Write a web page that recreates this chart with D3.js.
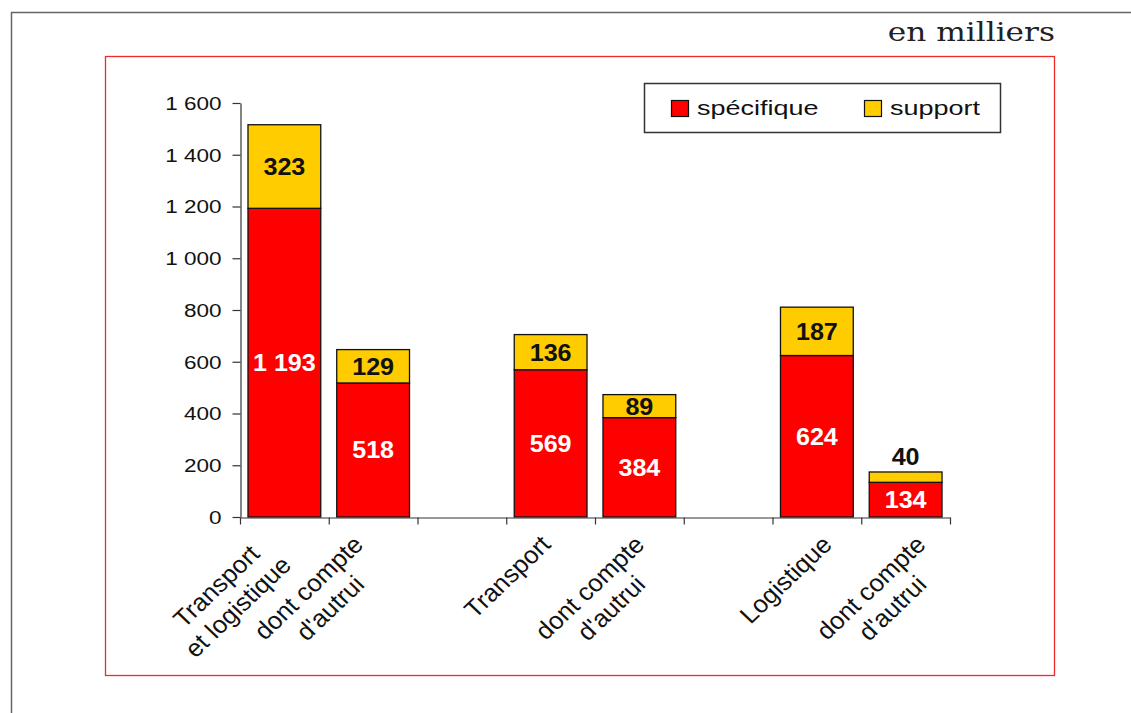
<!DOCTYPE html>
<html>
<head>
<meta charset="utf-8">
<script src="https://cdn.jsdelivr.net/npm/d3@7"></script>
<style>
	body { margin: 0; background: #fff; }
	svg text { font-family: "Liberation Sans", Arial, sans-serif; }
</style>
</head>
<body>
<script>
// categories (empty entries are the gaps between groups)
const categories = ["Transport\net logistique", "dont compte\nd'autrui", "", "Transport", "dont compte\nd'autrui", "", "Logistique", "dont compte\nd'autrui"];
const specifique = [1193, 518, null, 569, 384, null, 624, 134];
const support = [323, 129, null, 136, 89, null, 187, 40];
const yTicks = [0, 200, 400, 600, 800, 1000, 1200, 1400, 1600];
const seriesNames = ["spécifique", "support"];
const seriesColors = ["#ff0000", "#ffcc00"];

var width = 1131, height = 713;
var stretch = 1.05; // the original picture is a bit wider than tall
var fr = d3.formatLocale({ decimal: ",", thousands: " ", grouping: [3], currency: ["", " €"] });
var fmt = fr.format(",d");

var svg = d3.select("body").append("svg")
	.attr("width", width)
	.attr("height", height);

// page frame
svg.append("path")
	.attr("d", "M11.5," + height + "V12.5H" + width)
	.attr("fill", "none")
	.attr("stroke", "#666")
	.attr("stroke-width", 1.5);

svg.append("rect")
	.attr("x", 105.5).attr("y", 56.5)
	.attr("width", 949).attr("height", 619)
	.attr("fill", "none")
	.attr("stroke", "#ee2a2a")
	.attr("stroke-width", 1.3);

svg.append("text")
	.attr("transform", "translate(1055,41) scale(1.2,1)")
	.attr("text-anchor", "end")
	.style("font-family", "'DejaVu Serif', 'Liberation Serif', serif")
	.style("font-size", "26px")
	.attr("fill", "#222")
	.text("en milliers");

var x = d3.scaleBand()
	.domain(d3.range(categories.length))
	.range([240, 950])
	.paddingInner(0.18)
	.paddingOuter(0.09);

var y = d3.scaleLinear()
	.domain([0, 1600])
	.range([517, 103]);

var xb = d3.scaleLinear()
	.domain([0, categories.length])
	.range([240, 950]);

// label anchors spread a little wider than the bars
var xl = d3.scaleLinear()
	.domain([0, categories.length - 1])
	.range([271, 927]);

// y axis
var sxTick = 1.25;
var yAxis = svg.append("g")
	.attr("transform", "translate(240.5,0)")
	.call(d3.axisLeft(y).tickValues(yTicks).tickFormat(fmt).tickSize(8).tickSizeOuter(0));
yAxis.select(".domain").attr("stroke", "#333").attr("stroke-width", 1.2);
yAxis.selectAll(".tick line").attr("stroke", "#333").attr("stroke-width", 1.2);
yAxis.selectAll(".tick text")
	.attr("x", -19 / sxTick)
	.attr("transform", "scale(" + sxTick + ",1)")
	.attr("fill", "#111")
	.style("font-family", "'Liberation Sans', Arial, sans-serif")
	.style("font-size", "18px")
	.attr("dy", "0.36em");

// stacked bars
var stackData = categories.map((c, i) => ({ i: i, specifique: specifique[i], support: support[i] }))
	.filter(d => d.specifique != null);
var stack = d3.stack().keys(["specifique", "support"])(stackData);

var layers = svg.append("g")
	.selectAll("g")
	.data(stack)
	.enter()
	.append("g")
	.attr("fill", (d, k) => seriesColors[k]);

layers.selectAll("rect")
	.data(d => d)
	.enter()
	.append("rect")
	.attr("x", d => x(d.data.i))
	.attr("y", d => y(d[1]))
	.attr("width", x.bandwidth())
	.attr("height", d => y(d[0]) - y(d[1]))
	.attr("stroke", "#111")
	.attr("stroke-width", 1.3);

// value labels
layers.each(function (layer, k) {
	d3.select(this).selectAll("text")
		.data(layer)
		.enter()
		.append("text")
		.attr("transform", function (d) {
			var h = y(d[0]) - y(d[1]);
			var ty = h < 20 ? y(d[1]) - 15 : (y(d[0]) + y(d[1])) / 2;
			return "translate(" + (x(d.data.i) + x.bandwidth() / 2) + "," + ty + ") scale(1.07,1)";
		})
		.attr("dy", "0.36em")
		.attr("text-anchor", "middle")
		.attr("fill", function (d) {
			var h = y(d[0]) - y(d[1]);
			return k === 0 && h >= 20 ? "#fff" : "#111";
		})
		.style("font-size", "23.5px")
		.style("font-weight", "bold")
		.text(d => fmt(d[1] - d[0]));
});

// x axis
var xAxis = svg.append("g")
	.attr("transform", "translate(0,517.5)")
	.call(d3.axisBottom(xb).tickValues(d3.range(categories.length + 1)).tickFormat("").tickSize(7).tickSizeOuter(0));
xAxis.select(".domain").attr("stroke", "#333").attr("stroke-width", 1.2);
xAxis.selectAll(".tick line").attr("stroke", "#333").attr("stroke-width", 1.2);

// rotated category labels, block anchored at its right end on the first baseline
var lh = 29;
var lab = svg.append("g")
	.selectAll("g")
	.data(categories.map((c, i) => ({ i: i, lines: c ? c.split("\n") : [] })).filter(d => d.lines.length))
	.enter()
	.append("g")
	.attr("transform", d => "translate(" + xl(d.i) + ",546) scale(" + stretch + ",1) rotate(-45)");

lab.each(function (d) {
	var g = d3.select(this);
	var texts = g.selectAll("text")
		.data(d.lines)
		.enter()
		.append("text")
		.attr("y", (t, j) => j * lh)
		.attr("text-anchor", "middle")
		.attr("fill", "#111")
		.style("font-size", "24.5px")
		.text(t => t);
	var w = d3.max(texts.nodes(), n => n.getComputedTextLength());
	texts.attr("x", -w / 2);
});

// legend
var legend = svg.append("g");
legend.append("rect")
	.attr("x", 644.5).attr("y", 83.5)
	.attr("width", 356).attr("height", 49)
	.attr("fill", "#fff")
	.attr("stroke", "#333")
	.attr("stroke-width", 1.5);

var legX = [671, 864];
var item = legend.selectAll("g")
	.data(seriesNames)
	.enter()
	.append("g")
	.attr("transform", (d, i) => "translate(" + legX[i] + ",100)");
item.append("rect")
	.attr("x", 0.5).attr("y", 0.5)
	.attr("width", 17).attr("height", 16)
	.attr("fill", (d, i) => seriesColors[i])
	.attr("stroke", "#111")
	.attr("stroke-width", 1.2);
item.append("text")
	.attr("transform", "translate(26,8) scale(1.35,1)")
	.attr("dy", "0.36em")
	.attr("fill", "#111")
	.style("font-size", "20px")
	.text(d => d);
</script>
</body>
</html>
